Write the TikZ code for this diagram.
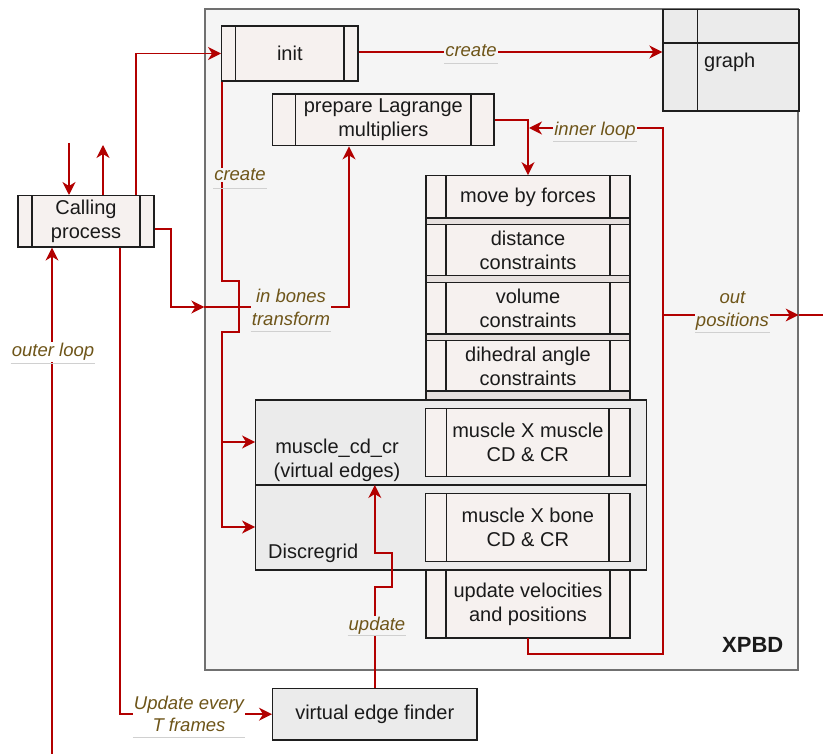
\documentclass[tikz,border=0pt]{standalone}
\usepackage{fontspec}
\setmainfont{Liberation Sans}
\usetikzlibrary{arrows.meta}
\definecolor{ac}{HTML}{B20000}
\definecolor{bc}{HTML}{1E1E1E}
\definecolor{txt}{HTML}{1A1A1A}
\definecolor{pfill}{HTML}{F6F1EF}
\definecolor{band}{HTML}{E6E0DE}
\definecolor{gfill}{HTML}{EBEBEB}
\definecolor{cfill}{HTML}{F5F5F5}
\definecolor{cborder}{HTML}{707070}
\definecolor{labc}{HTML}{6E5519}
\definecolor{ulc}{HTML}{D0D0D0}
\begin{document}
\begin{tikzpicture}[x=1pt,y=-1pt,
  mainfont/.style={font=\fontsize{20}{24}\selectfont, text=txt},
  plainbox/.style={draw=bc, line width=1.3pt, inner sep=0pt, align=center, mainfont},
  proc/.style={plainbox, fill=pfill,
    path picture={\draw[draw=bc, line width=1.3pt]
      ([xshift=#1]path picture bounding box.north west) -- ([xshift=#1]path picture bounding box.south west)
      ([xshift=-#1]path picture bounding box.north east) -- ([xshift=-#1]path picture bounding box.south east);}},
  proc/.default=14pt,
  graybox/.style={plainbox, fill=gfill},
  ln/.style={draw=ac, line width=1.5pt},
  arr/.style={ln, -{Stealth[length=13pt,width=13pt,inset=4pt]}},
  lab/.style={font=\fontsize{18.5}{22.5}\selectfont\itshape, text=labc, fill=#1, inner sep=1pt, align=center},
  lab/.default=cfill,
  ul/.style={draw=ulc, line width=0.9pt}
]
\useasboundingbox (0,0) rectangle (823,754);
\fill[white] (0,0) rectangle (823,754);

% XPBD container
\node[draw=cborder, fill=cfill, line width=1.3pt, minimum width=593pt, minimum height=661pt, inner sep=0pt] (xpbd) at (501.5,339.5) {};
\node[anchor=base east, inner sep=0pt, font=\fontsize{22}{26}\selectfont\bfseries, text=txt] (xpbdtxt) at (783.5,652) {XPBD};

% stack column
\node[draw=bc, fill=band, line width=1.3pt, minimum width=204pt, minimum height=462pt, inner sep=0pt] (col) at (528,407) {};
\node[proc=20pt, minimum width=204pt, minimum height=42.3pt] (move) at (528,196.9) {move by forces};
\node[proc=20pt, minimum width=204pt, minimum height=51.2pt] (dist) at (528,250.1) {distance\\constraints};
\node[proc=20pt, minimum width=204pt, minimum height=51.3pt] (vol) at (528,308.3) {volume\\constraints};
\node[proc=20pt, minimum width=204pt, minimum height=50.3pt] (dih) at (528,365.9) {dihedral angle\\constraints};

% muscle container
\node[graybox, minimum width=391pt, minimum height=170pt] (mc) at (451.2,485) {};
\draw[draw=bc, line width=1.3pt] (mc.west) -- (mc.east);
\node[inner sep=0pt, align=center, mainfont] (mctxt) at (337,460) {muscle\_cd\_cr\\(virtual edges)};
\node[anchor=west, inner sep=0pt, mainfont] (dgtxt) at (268,553) {Discregrid};
\node[proc=21pt, minimum width=204.3pt, minimum height=68.4pt] (mxm) at (527.85,442.5) {muscle X muscle\\CD \& CR};
\node[proc=21pt, minimum width=204.3pt, minimum height=68.4pt] (mxb) at (527.85,527.5) {muscle X bone\\CD \& CR};
\node[proc=20pt, minimum width=204pt, minimum height=67.7pt] (upd) at (528,603.9) {update velocities\\and positions};

% other boxes
\node[proc=14pt, minimum width=136.3pt, minimum height=55pt] (init) at (289.8,53.5) {init};
\node[proc=23pt, minimum width=221.3pt, minimum height=51.7pt] (prep) at (383.3,119.9) {prepare Lagrange\\multipliers};
\node[proc=14pt, minimum width=136pt, minimum height=51.3pt] (calling) at (86,221.3) {Calling\\process};
\node[graybox, minimum width=204.3pt, minimum height=51.7pt] (vef) at (374.8,714.2) {virtual edge finder};
\node[graybox, minimum width=136pt, minimum height=101.7pt] (graph) at (731,60.2) {};
\draw[draw=bc, line width=1.3pt] (graph.west |- 0,43) -- (graph.east |- 0,43);
\draw[draw=bc, line width=1.3pt] (697.7,0 |- graph.north) -- (697.7,0 |- graph.south);
\node[anchor=west, inner sep=0pt, mainfont] (graphtxt) at (704,62.2) {graph};

% free ends
\coordinate (inA) at (69,143);
\coordinate (outA) at (103,145);
\coordinate (outer) at (52,754);
\coordinate (outR) at (823,315);
\coordinate (br) at (222,442);
\coordinate (loopv) at (663,315);

% connectors
\draw[arr] (inA) -- (69,0 |- calling.north);
\draw[arr] (103,0 |- calling.north) -- (outA);
\draw[arr] (136,0 |- calling.north) |- (init.west);
\draw[arr] (init.east |- 0,52) -- (graph.west |- 0,52);
\draw[arr] (222,0 |- init.south) -- (222,281) -- (239,281) -- (239,332) -- (222,332) |- (mc.west |- 0,527);
\draw[arr] (br) -- (mc.west |- 0,442);
\draw[arr] (calling.east |- 0,229) -- (171,229) |- (xpbd.west |- 0,307);
\draw[arr] (xpbd.west |- 0,307) -| (349,0 |- prep.south);
\draw[arr] (prep.east) -| (move.north);
\draw[arr] (upd.south) |- (663,654) -- (663,128) -- (529,128);
\draw[arr] (loopv) -- (xpbd.east |- 0,315);
\draw[ln] (xpbd.east |- 0,315) -- (outR);
\draw[arr] (120,0 |- calling.south) |- (vef.west);
\draw[arr] (vef.north) -- (374.8,587) -- (392,587) -- (392,553) -- (374.8,553) -- (vef.north |- mc.center);
\draw[arr] (outer) -- (52,0 |- calling.south);

% labels
\node[lab] (L1) at (471,51) {create};
\node[lab] (L2) at (240,175) {create};
\node[lab] (L3) at (291,307.5) {in bones\\transform};
\node[lab] (L4) at (595,131) {inner loop};
\node[lab] (L5) at (732.5,311) {out\\positions};
\node[lab=white] (L6) at (189,714) {Update every\\T frames};
\node[lab] (L7) at (377,626) {update};
\node[lab=white] (L8) at (53,352) {outer loop};
\draw[ul] (L1.west |- 0,63) -- (L1.east |- 0,63);
\draw[ul] (L2.west |- 0,188.5) -- (L2.east |- 0,188.5);
\draw[ul] (L3.west |- 0,331) -- (L3.east |- 0,331);
\draw[ul] (L4.west |- 0,141) -- (L4.east |- 0,141);
\draw[ul] (L5.west |- 0,332) -- (L5.east |- 0,332);
\draw[ul] (L6.west |- 0,737.7) -- (L6.east |- 0,737.7);
\draw[ul] (L7.west |- 0,635) -- (L7.east |- 0,635);
\draw[ul] (L8.west |- 0,363) -- (L8.east |- 0,363);
\end{tikzpicture}
\end{document}
